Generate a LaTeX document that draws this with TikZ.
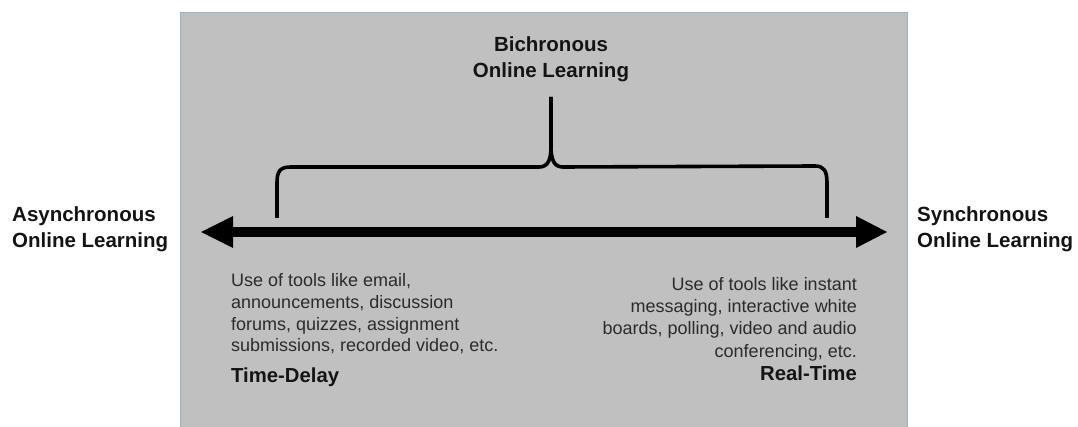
\documentclass[tikz,border=0pt]{standalone}
\usepackage{fontspec}
\setmainfont{Liberation Sans}
\usetikzlibrary{arrows.meta}
\definecolor{boxfill}{HTML}{C0C0C0}
\definecolor{boxline}{HTML}{9DB3CB}
\definecolor{bodytext}{HTML}{2B2B2B}
\tikzset{
  boldlabel/.style={inner sep=0pt, font=\fontsize{20.5}{26}\selectfont\bfseries, text=black!92},
  bodyleft/.style={inner sep=0pt, font=\fontsize{18}{21.7}\selectfont, text=bodytext},
  bodyright/.style={inner sep=0pt, font=\fontsize{18}{22.3}\selectfont, text=bodytext},
  tiplabel/.style={inner sep=0pt, font=\fontsize{20.3}{24}\selectfont\bfseries, text=black!92},
  bracestyle/.style={line width=3.6pt, line cap=butt, line join=round},
}
\begin{document}
\begin{tikzpicture}[x=1pt,y=-1pt]
\useasboundingbox (0,0) rectangle (1078,427);
\fill[white] (0,0) rectangle (1078,427);
\draw[boxline, fill=boxfill, line width=1.2pt] (180.5,12.5) rectangle (907.5,440);

% main arrow
\coordinate (L) at (201,232);
\coordinate (R) at (887,232);
\draw[line width=10pt, {Triangle[length=32pt,width=32pt,line width=0pt]}-{Triangle[length=31pt,width=32pt,line width=0pt]}] (L) -- (R);

% brace
\coordinate (BL) at (277,218);
\coordinate (BR) at (827,218);
\coordinate (BT) at (551,97);
\draw[bracestyle] (BL) -- (277,183) .. controls (277,171) and (280,167) .. (291,167)
  -- (539,167) .. controls (548,167) and (551,160) .. (551,146) -- (BT);
\draw[bracestyle] (BT) -- (551,146) .. controls (551,160) and (554,167) .. (563,167)
  -- (815,166) .. controls (824,166) and (827,171) .. (827,183) -- (BR);

% labels (base anchor = baseline of the last line)
\node[boldlabel, align=center, anchor=base] (bi) at (551,77.5) {Bichronous\\Online Learning};
\node[boldlabel, align=left, anchor=base west] (asy) at (12,247.5) {Asynchronous\\Online Learning};
\node[boldlabel, align=left, anchor=base west] (syn) at (917,247.5) {Synchronous\\Online Learning};

\node[bodyleft, align=left, anchor=base west] (ltext) at (231,352) {Use of tools like email,\\announcements, discussion\\forums, quizzes, assignment\\submissions, recorded video, etc.};
\node[tiplabel, anchor=base west] (td) at (231,382.5) {Time-Delay};

\node[bodyright, align=right, anchor=base east] (rtext) at (857,357) {Use of tools like instant\\messaging, interactive white\\boards, polling, video and audio\\conferencing, etc.};
\node[tiplabel, anchor=base east] (rt) at (857,380.5) {Real-Time};
\end{tikzpicture}
\end{document}
